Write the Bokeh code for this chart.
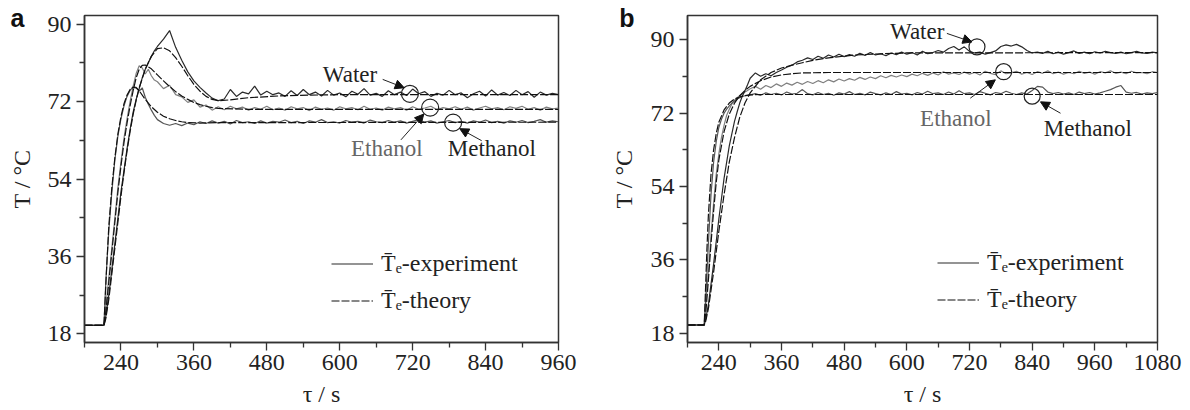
from bokeh.plotting import figure
from bokeh.models import (Range1d, FixedTicker, Label, Arrow, NormalHead, Legend, LegendItem,
                          LinearAxis)
from bokeh.layouts import row
from bokeh.embed import file_html
from bokeh.resources import INLINE

# ---------------- data: panel a ----------------
TA_EXP_T = [180, 212] + list(range(215, 300, 5)) + list(range(300, 961, 10))
A_MET_EXP = [20, 20, 30, 42, 51, 58.5, 64, 68, 71, 73.2, 74.6, 75.4, 75.3, 74.4, 75.2, 73.0, 71.4, 70.0, 68.8,
             67.8, 66.9, 66.5, 66.9, 66.4, 67.0, 66.6, 67.3, 66.9, 67.5,
             67.0, 67.4, 66.8, 67.6, 67.1, 67.3, 66.9, 67.5, 67.0, 67.4,
             67.2, 67.7, 67.1, 67.4, 66.9, 67.5, 67.2, 67.8, 67.1, 67.3,
             67.0, 67.6, 67.2, 67.4, 67.0, 67.7, 67.3, 67.1, 67.6, 67.2,
             67.5, 67.0, 67.4, 67.8, 67.2, 67.5, 67.0, 67.3, 67.6, 67.1,
             67.4, 67.0, 67.5, 67.2, 67.7, 67.1, 67.4, 67.0, 67.5, 67.2,
             67.6, 67.1, 67.4, 67.8, 67.2, 67.5, 67.3]
A_ETH_EXP = [20, 20, 24, 31, 38, 45, 52, 58, 63.5, 68, 72, 75.5, 78.5, 80.3, 79.8, 78.4, 79.5, 78.0, 77.0,
             76.6, 75.0, 75.8, 73.6, 73.1, 71.8, 72.4, 70.7, 71.2, 70.0,
             70.8, 70.1, 70.9, 70.3, 70.7, 70.0, 70.6, 70.2, 70.9, 70.1,
             70.5, 70.0, 70.8, 70.3, 70.6, 69.9, 70.7, 70.2, 70.5, 70.0,
             70.8, 70.3, 70.6, 70.1, 70.9, 70.2, 70.5, 70.0, 70.7, 70.3,
             70.6, 70.0, 70.8, 70.2, 70.5, 70.9, 70.1, 70.6, 70.3, 70.8,
             70.2, 70.7, 70.0, 70.5, 70.9, 70.3, 70.6, 70.1, 70.8, 70.4,
             70.9, 70.2, 70.6, 70.0, 70.7, 70.3, 70.5]
A_WAT_EXP = [20, 20, 22, 27, 33, 39, 45, 51, 56, 61, 65.5, 69.5, 72.5, 75, 77.5, 79.5, 81, 82.5, 83.8,
             84.8, 86.5, 88.5, 84.6, 81.6, 78.9, 76.8, 75.3, 74.0, 72.8,
             72.2, 72.6, 74.8, 73.2, 74.2, 73.8, 75.6, 73.5, 74.4, 73.6,
             74.0, 73.2, 74.5, 73.4, 74.8, 73.6, 74.2, 73.3, 74.6, 73.5,
             74.0, 73.1, 74.4, 73.7, 75.0, 73.5, 73.9, 73.2, 74.5, 73.6,
             74.2, 73.4, 74.9, 73.8, 74.3, 73.2, 73.9, 73.5, 74.6, 73.6,
             74.0, 72.9, 73.8, 74.4, 73.3, 74.7, 73.5, 74.1, 73.4, 74.6,
             73.6, 74.3, 73.0, 74.2, 73.5, 73.9, 73.6]

A_MET_TH_T = [180, 212, 214, 217, 220, 225, 230, 235, 240, 245, 250, 255, 260, 265, 270,
              280, 290, 300, 310, 320, 330, 340, 350, 370, 400, 960]
A_MET_TH = [20, 20, 26, 35, 43, 52, 59, 64.5, 68.5, 71.5, 73.5, 74.8, 75.3, 75.2, 74.5,
            72.5, 70.8, 69.5, 68.6, 68.0, 67.6, 67.3, 67.1, 67.0, 67.1, 67.2]
A_ETH_TH_T = [180, 212, 215, 220, 225, 230, 235, 240, 245, 250, 255, 260, 265, 270, 275,
              280, 290, 300, 310, 320, 330, 340, 350, 360, 370, 380, 390, 400, 450, 960]
A_ETH_TH = [20, 20, 23, 30, 37, 44, 51, 57, 62.5, 67, 71, 74.5, 77.5, 79.5, 80.4,
            80.5, 79.6, 78.2, 76.8, 75.5, 74.3, 73.3, 72.5, 71.8, 71.3, 70.9, 70.6, 70.4, 70.2, 70.2]
A_WAT_TH_T = [180, 212, 215, 220, 225, 230, 235, 240, 245, 250, 255, 260, 265, 270, 280, 290,
              300, 310, 320, 330, 340, 350, 360, 370, 380, 390, 400, 420, 450, 500, 550, 600, 960]
A_WAT_TH = [20, 20, 21.5, 26, 32, 38, 44, 50, 55.5, 60.5, 65, 69, 72.3, 75.2, 79.5, 82.5,
            84.3, 84.5, 83.8, 82.2, 80.2, 78.0, 76.0, 74.4, 73.2, 72.5, 72.2, 72.4, 72.9, 73.3, 73.5, 73.6, 73.6]

# ---------------- data: panel b ----------------
TB_EXP_T = [180, 212] + list(range(215, 300, 5)) + list(range(300, 1081, 10))
B_MET_EXP = [20, 20, 27, 40, 52, 60, 65, 68.5, 70.5, 72, 73, 73.8, 74.5, 75.0, 75.5, 75.8, 76.1, 76.3, 76.4,
             76.5, 76.8, 76.4, 77.0, 76.6, 76.9, 76.5, 77.2, 76.7, 76.9,
             77.8, 76.8, 76.5, 77.1, 76.6, 76.9, 76.4, 77.0, 76.7, 77.3,
             76.6, 76.9, 76.5, 77.2, 76.8, 76.5, 77.0, 76.6, 77.3, 76.7,
             76.9, 76.5, 77.1, 76.7, 77.4, 76.8, 77.0, 76.6, 77.2, 76.7,
             77.5, 76.8, 77.0, 76.6, 77.3, 76.9, 76.5, 77.1, 76.8, 77.4,
             76.9, 76.6, 77.0, 76.7, 77.6, 78.6, 78.4, 77.2, 76.8, 77.1,
             76.7, 77.0, 76.6, 77.2, 76.8, 77.1, 76.7, 77.0, 77.4, 77.8,
             78.4, 78.8, 77.2, 76.9, 77.1, 76.7, 77.0, 76.8, 77.1]
B_ETH_EXP = [20, 20, 25, 33, 42, 50, 57, 62, 66, 69, 71.5, 73, 74.3, 75.2, 75.8, 76.3, 76.8, 77.2, 77.6,
             78.0, 78.6, 77.9, 78.8, 78.3, 79.2, 78.6, 79.4, 78.9, 79.6,
             79.1, 79.8, 79.3, 80.0, 79.5, 80.2, 79.7, 80.4, 79.9, 80.5,
             80.1, 80.8, 80.3, 80.9, 80.5, 81.2, 80.7, 81.3, 80.9, 81.4,
             81.0, 81.6, 81.2, 81.8, 81.3, 81.9, 81.4, 82.2, 81.6, 81.9,
             81.5, 82.1, 81.6, 82.0, 81.4, 82.3, 81.8, 81.5, 82.4, 81.7,
             81.9, 82.3, 81.6, 82.0, 81.5, 82.2, 81.8, 82.4, 81.7, 82.1,
             81.6, 82.0, 81.7, 82.3, 81.8, 82.1, 81.6, 82.2, 81.9, 82.4,
             81.8, 82.1, 81.7, 82.3, 81.9, 82.0, 81.7, 82.2, 82.0]
B_WAT_EXP = [20, 20, 21.5, 25, 30, 35, 40.5, 46, 51, 56, 60, 64, 67, 70, 72.3, 74.5, 76.2, 77.5, 79.0,
             80.6, 81.9, 81.1, 81.7, 81.2, 82.0, 82.6, 83.3, 83.8, 84.6,
             85.0, 85.6, 85.2, 86.0, 85.5, 86.3, 85.8, 86.5, 85.9, 86.4,
             86.0, 86.7, 86.2, 86.9, 86.3, 86.6, 86.1, 86.8, 86.4, 87.0,
             86.5, 86.9, 86.3, 87.2, 86.6, 86.9, 87.4, 87.0, 87.9, 88.4,
             87.5, 88.3, 87.2, 86.8, 87.0, 86.5, 86.9, 87.3, 88.4, 88.8,
             88.5, 88.9, 88.3, 87.4, 86.8, 87.0, 86.7, 87.2, 86.6, 87.0,
             86.5, 86.9, 87.3, 86.7, 87.0, 86.6, 87.1, 86.8, 87.2, 86.9,
             86.7, 87.0, 86.6, 86.9, 87.2, 86.8, 86.7, 87.0, 86.8]

B_MET_TH_T = [180, 212, 214, 217, 220, 225, 230, 235, 240, 250, 260, 270, 280, 290, 300, 320, 350, 1080]
B_MET_TH = [20, 20, 27, 38, 47, 57, 63, 67, 69.8, 72.8, 74.5, 75.5, 76.0, 76.3, 76.5, 76.6, 76.6, 76.6]
B_ETH_TH_T = [180, 212, 215, 220, 225, 230, 235, 240, 250, 260, 270, 280, 290, 300, 320, 340,
              360, 380, 400, 450, 500, 1080]
B_ETH_TH = [20, 20, 23, 31, 40, 48, 55, 60.5, 67.5, 71.8, 74.5, 76.3, 77.6, 78.6, 80.0, 80.9,
            81.4, 81.7, 81.9, 82.0, 82.0, 82.0]
B_WAT_TH_T = [180, 212, 215, 220, 230, 240, 250, 260, 270, 280, 290, 300, 320, 340, 360, 380,
              400, 420, 450, 500, 550, 600, 1080]
B_WAT_TH = [20, 20, 21, 24, 33, 43, 52, 60, 66, 71, 74.5, 77, 80.2, 82.0, 83.1, 83.8,
            84.4, 85.0, 85.6, 86.3, 86.6, 86.8, 86.9]

Y_TICKS = [18, 36, 54, 72, 90]
Y_MINOR = [27, 45, 63, 81]
XA_TICKS = [240, 360, 480, 600, 720, 840, 960]
XB_TICKS = [240, 360, 480, 600, 720, 840, 960, 1080]

SERIF = "Liberation Serif"
AX = "#333333"
TH_DASH = "8 2"
C_WAT = "#2a2a2a"
C_ETH = "#808080"
C_MET = "#555555"
C_TH = "#111111"


def base_fig(width, height, xr, yr, xticks, bl, br, bt, bb, ylab_standoff):
    p = figure(width=width, height=height, x_range=Range1d(*xr), y_range=Range1d(*yr),
               output_backend="svg", toolbar_location=None,
               min_border_left=bl, min_border_right=br, min_border_top=bt, min_border_bottom=bb)
    p.grid.visible = False
    p.outline_line_color = AX
    p.outline_line_width = 1.5
    minor_x = [t - 60 for t in xticks]
    p.xaxis.ticker = FixedTicker(ticks=xticks, minor_ticks=minor_x)
    p.yaxis.ticker = FixedTicker(ticks=Y_TICKS, minor_ticks=Y_MINOR)
    for ax in (p.xaxis, p.yaxis):
        ax.axis_line_color = AX
        ax.axis_line_width = 1.5
        ax.major_tick_line_color = AX
        ax.minor_tick_line_color = AX
        ax.major_tick_line_width = 1.3
        ax.minor_tick_line_width = 1.3
        ax.major_tick_in = 0
        ax.major_tick_out = 8
        ax.minor_tick_in = 0
        ax.minor_tick_out = 5
        ax.major_label_text_font = SERIF
        ax.major_label_text_font_size = "24px"
        ax.major_label_text_color = "#222222"
        ax.axis_label_text_font = SERIF
        ax.axis_label_text_font_size = "24px"
        ax.axis_label_text_font_style = "normal"
        ax.axis_label_text_color = "#222222"
    p.xaxis.major_label_standoff = 4
    p.yaxis.major_label_standoff = 5
    p.xaxis.axis_label = "\u03c4 / s"
    p.yaxis.axis_label = "T / \u00b0C"
    p.xaxis.axis_label_standoff = 8
    p.yaxis.axis_label_standoff = ylab_standoff
    return p


def panel_letter(p, letter, y_px, top_px, bottom_px, standoff):
    # an extra, invisible left axis whose single tick label is the panel letter
    p.extra_y_ranges = {"px": Range1d(bottom_px, top_px)}
    ax = LinearAxis(y_range_name="px", ticker=FixedTicker(ticks=[y_px], minor_ticks=[]),
                    major_label_overrides={y_px: letter},
                    axis_line_color=None, major_tick_line_color=None, minor_tick_line_color=None,
                    major_tick_out=0, major_tick_in=0, minor_tick_out=0, minor_tick_in=0,
                    major_label_standoff=standoff,
                    major_label_text_font="Liberation Sans", major_label_text_font_style="bold",
                    major_label_text_font_size="25px", major_label_text_color="#111111")
    p.add_layout(ax, "left")


def lbl(p, x, y, text, size="23px", color="#222222"):
    p.add_layout(Label(x=x, y=y, text=text, text_font=SERIF, text_font_size=size,
                       text_color=color, text_align="left", text_baseline="middle"))


def arrow(p, x0, y0, x1, y1):
    p.add_layout(Arrow(end=NormalHead(size=9, fill_color="#111111", line_color="#111111"),
                       x_start=x0, y_start=y0, x_end=x1, y_end=y1,
                       line_color="#222222", line_width=1))


def draw(p, exp_t, exps, ths):
    rs = []
    for y, c in exps:
        rs.append(p.line(exp_t, y, line_color=c, line_width=1.2))
    r_th = None
    for t, y in ths:
        r = p.line(t, y, line_color=C_TH, line_width=1.2, line_dash=TH_DASH)
        if r_th is None:
            r_th = r
    return rs[-1], r_th


def legend(p, r_exp, r_th, loc):
    lg = Legend(items=[LegendItem(label="T\u0304\u2091-experiment", renderers=[r_exp]),
                       LegendItem(label="T\u0304\u2091-theory", renderers=[r_th])],
                location=loc, border_line_color=None, background_fill_alpha=0,
                label_text_font=SERIF, label_text_font_size="24px", label_text_color="#222222",
                glyph_width=42, glyph_height=37, label_height=37, label_standoff=8,
                padding=0, margin=0, spacing=0)
    p.add_layout(lg)


# ---------------- panel a ----------------
pa = base_fig(594, 409, (180, 960), (16, 92), XA_TICKS, 84, 36, 14, 66, 10)
ra_exp, ra_th = draw(pa, TA_EXP_T,
                     [(A_ETH_EXP, C_ETH), (A_MET_EXP, C_MET), (A_WAT_EXP, C_WAT)],
                     [(A_MET_TH_T, A_MET_TH), (A_ETH_TH_T, A_ETH_TH), (A_WAT_TH_T, A_WAT_TH)])
legend(pa, ra_exp, ra_th, (247, 23))
pa.scatter(x=[715.5, 748.8, 786.6], y=[73.8, 70.6, 67.1], marker="circle", size=17,
           fill_color=None, line_color="#222222", line_width=1.2)
lbl(pa, 572.2, 78.3, "Water")
lbl(pa, 618.6, 61.0, "Ethanol", color="#666666")
lbl(pa, 777.8, 61.0, "Methanol")
arrow(pa, 670.7, 77.15, 706.1, 75.2)
arrow(pa, 700.7, 63.1, 738.4, 69.1)
arrow(pa, 833.6, 62.9, 797.5, 65.7)
panel_letter(pa, "\u00a0a", 17, 14, 343, -19)

# ---------------- panel b ----------------
pb = base_fig(588, 409, (180, 1080), (15.7, 96), XB_TICKS, 93, 25, 15, 66, 11)
rb_exp, rb_th = draw(pb, TB_EXP_T,
                     [(B_ETH_EXP, C_ETH), (B_MET_EXP, C_MET), (B_WAT_EXP, C_WAT)],
                     [(B_MET_TH_T, B_MET_TH), (B_ETH_TH_T, B_ETH_TH), (B_WAT_TH_T, B_WAT_TH)])
legend(pb, rb_exp, rb_th, (250, 24))
pb.scatter(x=[734.3, 785.4, 840.0], y=[88.3, 82.2, 76.2], marker="circle", size=16,
           fill_color=None, line_color="#222222", line_width=1.2)
lbl(pb, 567.8, 92.0, "Water")
lbl(pb, 625.4, 70.8, "Ethanol", color="#666666")
lbl(pb, 862.3, 68.3, "Methanol")
arrow(pb, 676.7, 91.6, 724.7, 89.5)
arrow(pb, 721.5, 75.7, 769.5, 80.2)
arrow(pb, 894.3, 72.0, 855.9, 74.8)
panel_letter(pb, "\u00a0\u00a0b", 18, 15, 343, -27)

layout = row(pa, pb)
open("out.html", "w").write(file_html(layout, INLINE))
